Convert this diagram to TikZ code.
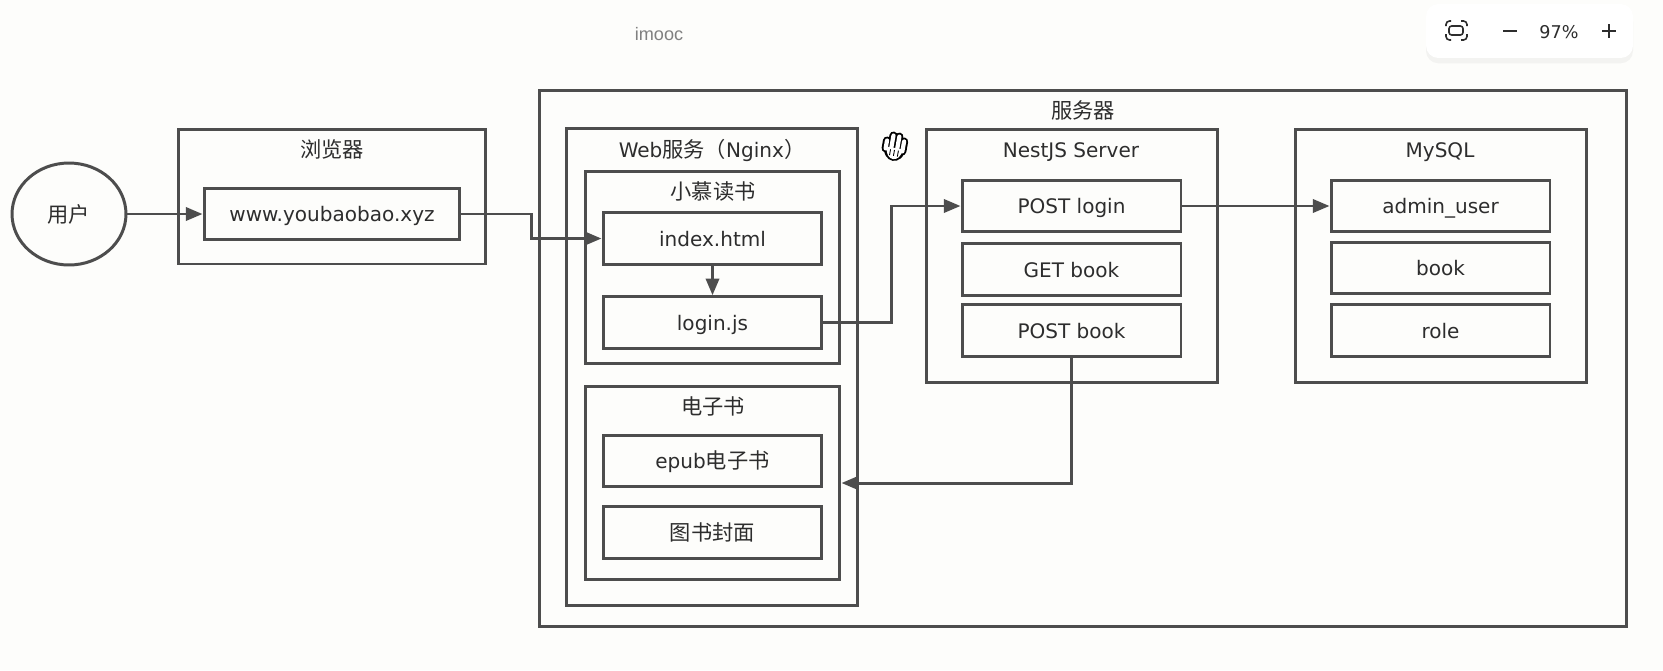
\documentclass[tikz,border=0pt]{standalone}
\usepackage{fontspec}
\setmainfont{DejaVu Sans}
\newfontfamily\cjk{Noto Sans CJK SC}
\newfontfamily\markfont{Liberation Sans}
\usetikzlibrary{arrows.meta, positioning, shadows, shapes.geometric}
\definecolor{lgray} {RGB}{ 77, 77, 77}
\definecolor{tgray} {RGB}{ 45, 45, 45}
\definecolor{pagebg}{RGB}{253,253,251}
\newcommand{\lblsize}{\fontsize{11.4}{13}\selectfont}
\newcommand{\zhsize}{\cjk\fontsize{12.1}{13}\selectfont}
\tikzset{
  % Outer group box
  OB/.style 2 args={rectangle,draw=lgray,line width=1.7pt,
             minimum width=#1cm,minimum height=#2cm,inner sep=0pt},
  % Inner item box
  IB/.style={rectangle,draw=lgray,line width=1.7pt,text=tgray,
             minimum width=#1,minimum height=1.03cm,inner sep=0pt,
             text height=0.33cm,text depth=0.03cm,font=\lblsize},
  IB/.default=4.38cm,
  % Title of a group
  TT/.style={text=tgray,inner sep=0pt,text height=0.33cm,text depth=0.03cm,font=\lblsize},
  % Arrows
  Arr/.style={-{Stealth[length=9.5pt,width=7.5pt,inset=0pt]},line width=1.7pt,color=lgray},
}
\begin{document}
\begin{tikzpicture}[x=0.02cm,y=-0.02cm]
      \useasboundingbox (0,0) rectangle (1663,670);
      \fill[pagebg] (0,0) rectangle (1663,670);
      % Screen overlay on top
      \node[TT,text=black!50,font=\markfont\fontsize{10.3}{12}\selectfont] at (659,33) (mark) {imooc};
      \node[rectangle,rounded corners=7pt,fill=white,minimum width=4.14cm,
            minimum height=1.08cm,drop shadow={opacity=0.08,shadow xshift=0pt,shadow yshift=-3pt}]
            at (1529.5,31) (bar) {};
      \draw[tgray,line width=0.9pt,rounded corners=1.5pt] (1449,26) rectangle (1463,35);
      \draw[tgray,line width=0.9pt,rounded corners=2pt]
        (1446,26) -- (1446,21) -- (1451,21) (1461,21) -- (1467,21) -- (1467,26)
        (1467,34) -- (1467,40) -- (1461,40) (1451,40) -- (1446,40) -- (1446,34);
      \draw[tgray,line width=0.9pt] (1503,31) -- (1517,31) (1602,31) -- (1616,31) (1609,24) -- (1609,38);
      \node[TT,font=\fontsize{10}{12}\selectfont] at (1559,31) (zoomval) {97\%};
      % User on the left
      \node[ellipse,draw=lgray,line width=1.7pt,minimum width=2.28cm,minimum height=2.04cm,
            inner sep=0pt,text=tgray,font=\zhsize]
            at (69,214) (user) {用户};
      % Browser
      \node[OB={6.16}{2.7}] at (332,196.5) (browser) {};
      \node[TT,font=\zhsize] at (332,150) (browsertt) {浏览器};
      \node[IB=5.12cm] at (332,214) (www) {www.youbaobao.xyz};
      % Server and its groups
      \node[OB={21.76}{10.74}] at (1083,358.5) (server) {};
      \node[TT,font=\zhsize] at (1083,111) (servertt) {服务器};
      \node[OB={5.84}{9.54}] at (712,367) (web) {};
      \node[TT] at (712,150) (webtt) {Web{\zhsize 服务（}Nginx{\zhsize ）}};
      \node[OB={5.1}{3.86}] at (712.5,267.5) (reader) {};
      \node[TT,font=\zhsize] at (713,192) (readertt) {小慕读书};
      \node[IB] at (712.5,238.5) (index) {index.html};
      \node[IB] at (712.5,322.5) (login) {login.js};
      \node[OB={5.1}{3.88}] at (712.5,483) (ebook) {};
      \node[TT,font=\zhsize] at (713,407) (ebooktt) {电子书};
      \node[IB] at (712.5,461) (epub) {epub{\zhsize 电子书}};
      \node[IB,font=\zhsize] at (712.5,532.5) (cover) {图书封面};
      % Hand cursor
      \begin{scope}[rotate around={-10:(895,147)}]
      \foreach \x/\t in {-9/-5,-3.5/-11,2.5/-11,8/-7}
        \draw[black,line width=4.6pt,line cap=round] (895+\x,150) -- (895+\x,147+\t);
      \fill[black] (884,146) .. controls (884,166) and (906,166) .. (906,146) -- cycle;
      \foreach \x/\t in {-9/-5,-3.5/-11,2.5/-11,8/-7}
        \draw[white,line width=2.4pt,line cap=round] (895+\x,150) -- (895+\x,147+\t);
      \fill[white] (887,148) .. controls (887,163) and (903,163) .. (903,148) -- cycle;
      \draw[black,line width=0.5pt] (891,150) -- (891,156) (895,150) -- (895,156) (899,150) -- (899,156);
      \end{scope}
      % NestJS
      \node[OB={5.84}{5.08}] at (1072,256) (nest) {};
      \node[TT] at (1071,150) (nesttt) {NestJS Server};
      \node[IB] at (1071.5,206) (plogin) {POST login};
      \node[IB] at (1071.5,269.5) (gbook) {GET book};
      \node[IB] at (1071.5,330.5) (pbook) {POST book};
      % MySQL
      \node[OB={5.84}{5.08}] at (1441,256) (mysql) {};
      \node[TT] at (1440,150) (mysqltt) {MySQL};
      \node[IB] at (1440.5,206) (admin) {admin\_user};
      \node[IB] at (1440.5,268) (book) {book};
      \node[IB] at (1440.5,330.5) (role) {role};
      % Arrows
      \coordinate (bendA) at (531,214);
      \coordinate (bendB) at (891,322.5);
      \draw[Arr] (user.east) -- (www.west);
      \draw[Arr] (www.east) -- (bendA) |- (index.west);
      \draw[Arr] (index.south) -- (login.north);
      \draw[Arr] (login.east) -- (bendB) |- (plogin.west);
      \draw[Arr] (plogin.east) -- (admin.west);
      \draw[Arr] (pbook.south) |- (ebook.east);
    \end{tikzpicture}
\end{document}
